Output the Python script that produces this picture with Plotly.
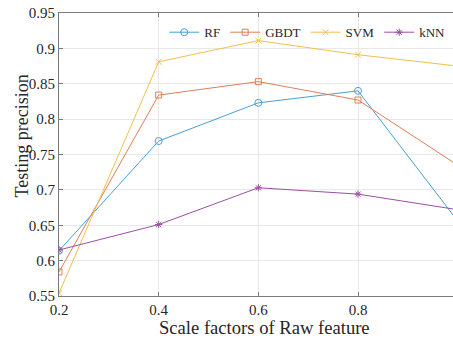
import plotly.graph_objects as go

x_vals = [0.2, 0.4, 0.6, 0.8, 1.0]
rf = [0.614, 0.769, 0.823, 0.840, 0.656]
gbdt = [0.584, 0.834, 0.853, 0.827, 0.735]
svm = [0.554, 0.881, 0.911, 0.891, 0.875]
knn = [0.615, 0.651, 0.703, 0.694, 0.672]

series_names = ["RF", "GBDT", "SVM", "kNN"]
x_ticks = [0.2, 0.4, 0.6, 0.8]
x_tick_text = ["0.2", "0.4", "0.6", "0.8"]
y_ticks = [0.55, 0.6, 0.65, 0.7, 0.75, 0.8, 0.85, 0.9, 0.95]
y_tick_text = ["0.55", "0.6", "0.65", "0.7", "0.75", "0.8", "0.85", "0.9", "0.95"]
x_title = "Scale factors of Raw feature"
y_title = "Testing precision"

colors = ["#45a0d6", "#e07e56", "#efc04c", "#9a4fa2"]
symbols = ["circle-open", "square-open", "x-thin-open", "asterisk-open"]
sizes = [7, 6, 6, 6]

fig = go.Figure()
for name, ys, c, s, sz in zip(series_names, [rf, gbdt, svm, knn], colors, symbols, sizes):
    fig.add_trace(go.Scatter(
        x=x_vals, y=ys, name=name, mode="lines+markers",
        line=dict(color=c, width=1),
        marker=dict(symbol=s, size=sz, color=c, line=dict(color=c, width=1)),
        cliponaxis=True,
    ))

ff = "Liberation Serif, Times New Roman, serif"
txt = "#262626"
fig.update_layout(
    width=453, height=338,
    margin=dict(l=59, r=0, t=13, b=42),
    paper_bgcolor="white", plot_bgcolor="white",
    font=dict(family=ff, color=txt, size=15),
    showlegend=True,
    legend=dict(
        orientation="h", x=0.63, xanchor="center", y=0.985, yanchor="top",
        bgcolor="rgba(0,0,0,0)", font=dict(size=13, family=ff, color=txt),
        itemwidth=30, tracegroupgap=0,
    ),
    xaxis=dict(
        range=[0.2, 0.9906], tickvals=x_ticks, ticktext=x_tick_text,
        showgrid=True, gridcolor="#e8e8e8", gridwidth=1,
        showline=True, linecolor="#7a7a7a", linewidth=1, mirror="ticks",
        ticks="inside", ticklen=4, tickcolor="#7a7a7a",
        zeroline=False, automargin=False, ticklabeloverflow="allow",
        tickfont=dict(size=15, family=ff, color=txt),
    ),
    yaxis=dict(
        range=[0.55, 0.95], tickvals=y_ticks, ticktext=y_tick_text,
        showgrid=True, gridcolor="#e8e8e8", gridwidth=1,
        showline=True, linecolor="#7a7a7a", linewidth=1, mirror=False,
        ticks="inside", ticklen=4, tickcolor="#7a7a7a",
        zeroline=False, automargin=False, ticklabeloverflow="allow",
        tickfont=dict(size=15, family=ff, color=txt),
    ),
    annotations=[
        dict(text=x_title, xref="paper", yref="paper", x=0.5, y=0,
             xanchor="center", yanchor="middle", xshift=8, yshift=-31,
             showarrow=False, font=dict(size=18.6, family=ff, color=txt)),
        dict(text=y_title, xref="paper", yref="paper", x=0, y=0.564,
             xanchor="center", yanchor="middle", xshift=-37, textangle=-90,
             showarrow=False, font=dict(size=18, family=ff, color=txt)),
    ],
)

fig.write_html(
    "out.html",
    config={"displayModeBar": False},
    post_script="document.body.style.margin='0';document.body.style.overflow='hidden';",
)
